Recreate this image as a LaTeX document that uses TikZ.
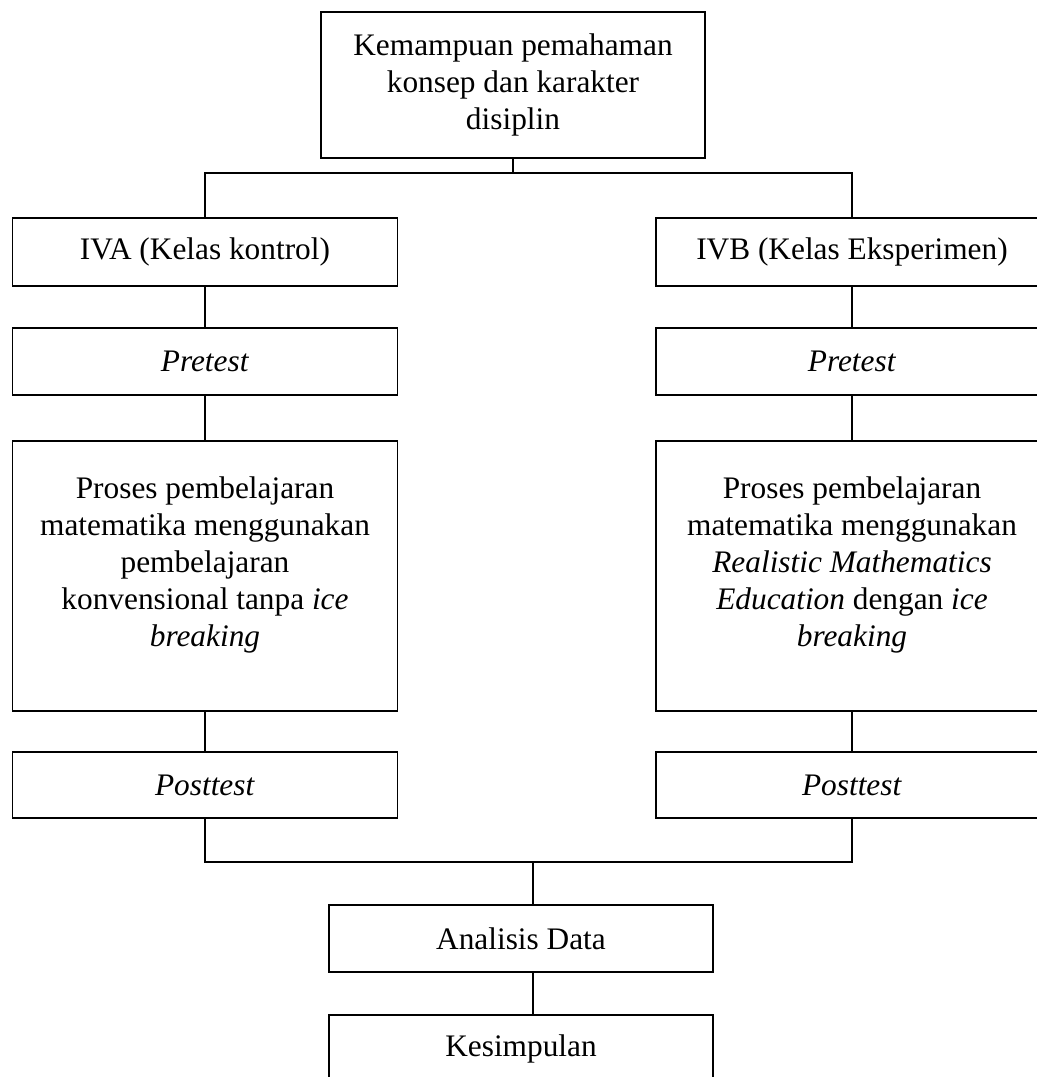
\documentclass[tikz,border=0pt]{standalone}
\usepackage{fontspec}
\setmainfont{Liberation Serif}
\newcommand\liftup[1]{\raisebox{0pt}[\height][\dimexpr\depth+8.4pt]{\begin{tabular}{@{}c@{}}#1\end{tabular}}}

\begin{document}
\begin{tikzpicture}[x=0.383pt,y=-0.383pt,line width=0.6pt,
  font=\fontsize{12pt}{14.2pt}\selectfont,
  box/.style={draw,align=center,inner sep=0pt,minimum width=385*0.383pt,minimum height=67*0.383pt},
  rbox/.style={box,minimum width=392*0.383pt}]
\useasboundingbox (0,0) rectangle (1037,1077);
\node[box,minimum width=384*0.383pt,minimum height=146*0.383pt] (top) at (513,85) {Kemampuan pemahaman\\konsep dan karakter\\disiplin};
\node[box,minimum height=68*0.383pt] (a1) at (205,252) {IVA (Kelas kontrol)};
\node[rbox,minimum height=68*0.383pt] (b1) at (852,252) {IVB (Kelas Eksperimen)};
\node[box] (a2) at (205,361.5) {\textit{Pretest}};
\node[rbox] (b2) at (852,361.5) {\textit{Pretest}};
\node[box,minimum height=270*0.383pt] (a3) at (205,576) {\liftup{Proses pembelajaran\\matematika menggunakan\\pembelajaran\\konvensional tanpa \textit{ice}\\\textit{breaking}}};
\node[rbox,minimum height=270*0.383pt] (b3) at (852,576) {\liftup{Proses pembelajaran\\matematika menggunakan\\\textit{Realistic Mathematics}\\\textit{Education} dengan \textit{ice}\\\textit{breaking}}};
\node[box,minimum height=66*0.383pt] (a4) at (205,785) {\textit{Posttest}};
\node[rbox,minimum height=66*0.383pt] (b4) at (852,785) {\textit{Posttest}};
\node[box,minimum width=384*0.383pt] (an) at (521,938.5) {Analisis Data};
\node[box,minimum width=384*0.383pt] (ks) at (521,1048.5) {Kesimpulan};
\coordinate (split) at (513,173);
\coordinate (join) at (533,862);
% cabang atas
\draw (top.south) -- (split);
\draw (a1.north) |- (split) -| (b1.north);
% alur kelas
\draw (a1) -- (a2);
\draw (a2) -- (a3);
\draw (a3) -- (a4);
\draw (b1) -- (b2);
\draw (b2) -- (b3);
\draw (b3) -- (b4);
% gabung
\draw (a4.south) |- (join) -| (b4.south);
\draw (join) -- (join |- an.north);
\draw (an.south -| join) -- (ks.north -| join);
\end{tikzpicture}
\end{document}
